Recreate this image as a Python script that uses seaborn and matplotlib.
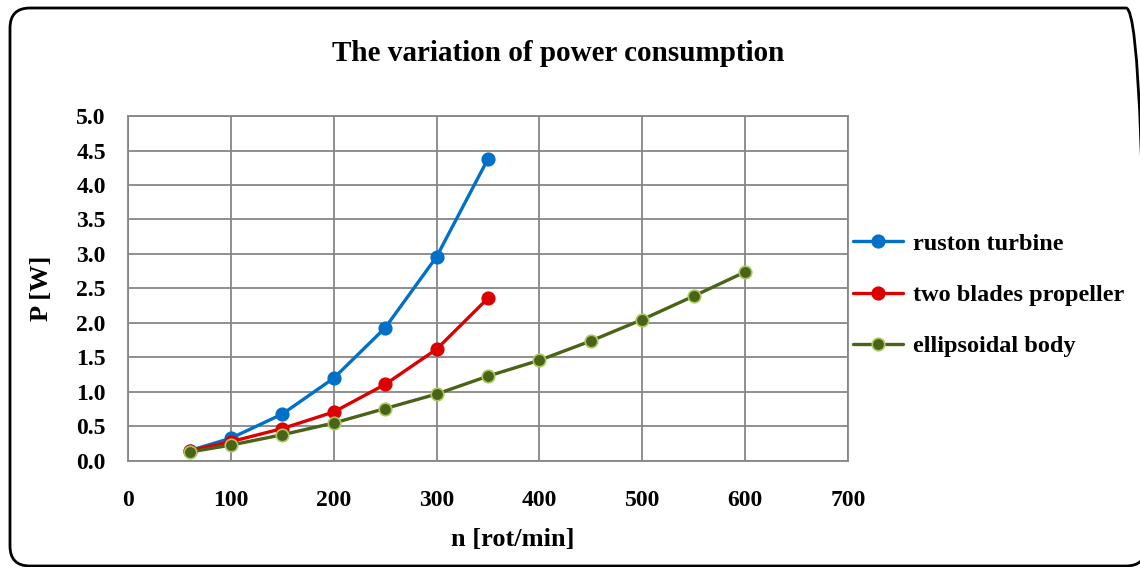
import pandas as pd
import matplotlib.pyplot as plt
import seaborn as sns
from matplotlib.patches import FancyBboxPatch
from matplotlib.transforms import IdentityTransform

n_short = [60, 100, 150, 200, 250, 300, 350]
n_long = [60, 100, 150, 200, 250, 300, 350, 400, 450, 500, 550, 600]
p_ruston = [0.15, 0.33, 0.68, 1.20, 1.93, 2.96, 4.38]
p_propeller = [0.15, 0.28, 0.47, 0.71, 1.11, 1.62, 2.36]
p_ellipsoid = [0.13, 0.23, 0.38, 0.55, 0.76, 0.97, 1.23, 1.46, 1.74, 2.05, 2.39, 2.74]
names = ["ruston turbine", "two blades propeller", "ellipsoidal body"]
colors = ["#0070C8", "#DD0000", "#4A6318"]
edge_colors = ["#0070C8", "#DD0000", "#A8C860"]

df = pd.concat([
    pd.DataFrame({"n": n_short, "P": p_ruston, "series": names[0]}),
    pd.DataFrame({"n": n_short, "P": p_propeller, "series": names[1]}),
    pd.DataFrame({"n": n_long, "P": p_ellipsoid, "series": names[2]}),
])

sns.set_theme(style="white")
plt.rcParams['font.family'] = ['Liberation Serif', 'DejaVu Serif']
plt.rcParams['font.weight'] = 'bold'
plt.rcParams['text.color'] = 'black'
plt.rcParams['xtick.color'] = 'black'
plt.rcParams['ytick.color'] = 'black'
plt.rcParams['axes.labelcolor'] = 'black'

fig = plt.figure(figsize=(11.4, 5.67), dpi=100)
ax = fig.add_axes([0.1123, 0.187, 0.6316, 0.6084])

for name, col, ec in zip(names, colors, edge_colors):
    sns.lineplot(data=df[df["series"] == name], x="n", y="P", ax=ax,
                 color=col, linewidth=2.4, marker="o", markersize=9,
                 markerfacecolor=col, markeredgecolor=ec, markeredgewidth=1.2,
                 label=name)

ax.set_xlim(0, 700)
ax.set_ylim(0, 5.0)
ax.set_xticks(range(0, 701, 100))
ax.set_yticks([i * 0.5 for i in range(11)])
ax.set_yticklabels([f"{i * 0.5:.1f}" for i in range(11)])
ax.grid(True, color="#868686", linewidth=1.3)
for s in ax.spines.values():
    s.set_color("#868686")
    s.set_linewidth(1.3)
ax.tick_params(axis="both", length=0, labelsize=17)
ax.tick_params(axis="x", pad=21)
ax.tick_params(axis="y", pad=16)
for lbl in ax.get_xticklabels() + ax.get_yticklabels():
    lbl.set_fontweight("bold")

ax.set_xlabel("n [rot/min]", fontsize=19, fontweight="bold")
ax.set_ylabel("P [W]", fontsize=19, fontweight="bold")
ax.xaxis.set_label_coords(0.535, -0.194)
ax.yaxis.set_label_coords(-0.104, 0.5)
fig.text(0.4895, 0.9065, "The variation of power consumption", ha="center",
         va="center", fontsize=21, fontweight="bold")

leg = ax.legend(loc="center left", bbox_to_anchor=(0.748, 0.4797),
                bbox_transform=fig.transFigure, frameon=False,
                borderpad=0, borderaxespad=0, handlelength=2.06,
                handletextpad=0.4, labelspacing=1.2,
                prop={"weight": "bold", "size": 17.5})

frame = FancyBboxPatch((10, 1), 1136, 558,
                       boxstyle="round,pad=0,rounding_size=20",
                       transform=IdentityTransform(), fill=False,
                       edgecolor="black", linewidth=2)
fig.patches.append(frame)

fig.savefig("out.png", dpi=100)
